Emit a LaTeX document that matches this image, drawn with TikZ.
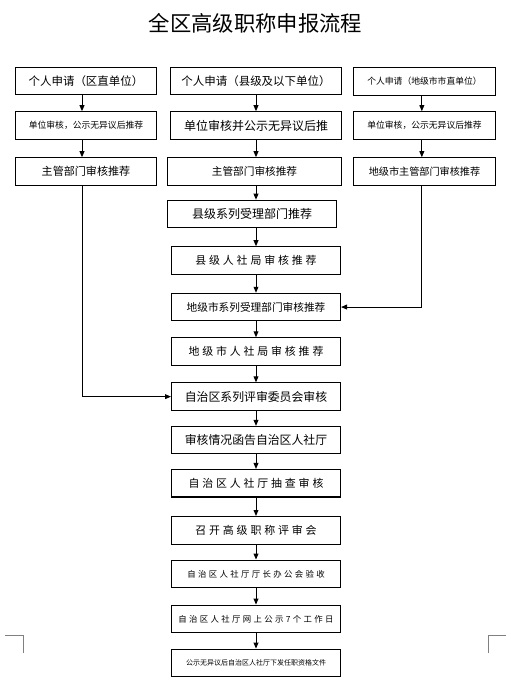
\documentclass[tikz,border=0pt]{standalone}
\usepackage{fontspec}
\setmainfont{Noto Sans CJK SC}
\usetikzlibrary{arrows.meta,positioning}

\begin{document}
\begin{tikzpicture}[x=0.75pt,y=-0.75pt,
  font=\fontsize{8.6}{10}\selectfont,
  box/.style={draw,line width=0.8pt,minimum height=20.6pt,inner sep=1pt,align=center},
  sidebox/.style={box,minimum width=106pt},
  midbox/.style={box,minimum width=126.7pt},
  sm/.style={font=\fontsize{6.6}{8}\selectfont},
  wide/.style={font=\fontsize{8.2}{10}\selectfont\addfontfeature{LetterSpace=26}},
  thin/.style={font=\fontsize{6.3}{8}\selectfont\addfontfeature{LetterSpace=28}},
  ar/.style={-{Triangle[length=4.5pt,width=3.6pt]},line width=0.75pt}]
\useasboundingbox (0,0) rectangle (511,683);

\node[font=\fontsize{16}{18}\selectfont] (title) at (255.5,23) {全区高级职称申报流程};

% three entry columns
\node[sidebox] (a1) at (86,81) {个人申请（区直单位）};
\node[box,minimum width=128.2pt] (b1) at (256,81) {个人申请（县级及以下单位）};
\node[sidebox,sm] (c1) at (424.5,81.5) {个人申请（地级市市直单位）};

\node[sidebox,sm] (a2) at (86,125.5) {单位审核，公示无异议后推荐};
\node[box,minimum width=128.2pt,font=\fontsize{9}{10}\selectfont] (b2) at (256,125.5) {单位审核并公示无异议后推};
\node[sidebox,sm] (c2) at (424.5,125.5) {单位审核，公示无异议后推荐};

\node[sidebox,font=\fontsize{8.3}{10}\selectfont] (a3) at (86,171.5) {主管部门审核推荐};
\node[box,minimum width=130.5pt,font=\fontsize{8}{10}\selectfont] (b3) at (254.5,171.5) {主管部门审核推荐};
\node[sidebox,font=\fontsize{7.6}{9}\selectfont] (c3) at (424.5,171.5) {地级市主管部门审核推荐};

% main column
\node[midbox,font=\fontsize{9}{10}\selectfont] (m1) at (252,214) {县级系列受理部门推荐};
\node[midbox,wide] (m2) at (256,260.5) {县级人社局审核推荐};
\node[midbox,font=\fontsize{8}{10}\selectfont,below=13.5pt of m2] (m3) {地级市系列受理部门审核推荐};
\node[midbox,wide,below=12pt of m3] (m4) {地级市人社局审核推荐};
\node[midbox,font=\fontsize{8.9}{10}\selectfont,below=12.4pt of m4] (m5) {自治区系列评审委员会审核};
\node[midbox,font=\fontsize{8.9}{10}\selectfont,below=11.25pt of m5] (m6) {审核情况函告自治区人社厅};
\node[midbox,wide,below=10.9pt of m6] (m7) {自治区人社厅抽查审核};
\node[midbox,wide,below=13.9pt of m7] (m8) {召开高级职称评审会};
\node[midbox,thin,below=11.25pt of m8] (m9) {自治区人社厅厅长办公会验收};
\node[midbox,thin,below=12.4pt of m9] (m10) {自治区人社厅网上公示7个工作日};
\node[midbox,font=\fontsize{5.25}{7}\selectfont,below=11.6pt of m10] (m11) {公示无异议后自治区人社厅下发任职资格文件};

\foreach \a/\b/\s in {a1/a2/-3, a2/a3/-3, c1/c2/-2, c2/c3/-2}
  \draw[ar] ([xshift=\s pt]\a.south) -- ([xshift=\s pt]\b.north);
\foreach \a/\b in {b1/b2, b2/b3, b3/m1, m1/m2, m2/m3, m3/m4, m4/m5, m5/m6, m6/m7, m7/m8, m8/m9, m9/m10, m10/m11}
  \draw[ar] (\a.south -| m2) -- (\b.north -| m2);

% side branches into the main column
\draw[ar] ([xshift=-3pt]a3.south) |- (m5.west);
\draw[ar] ([xshift=-2pt]c3.south) |- (m3.east);

% page corner marks
\draw[gray,line width=0.6pt] (5,635) -- (23,635) -- (23,653);
\draw[gray,line width=0.6pt] (506,635) -- (488,635) -- (488,653);
\end{tikzpicture}
\end{document}
